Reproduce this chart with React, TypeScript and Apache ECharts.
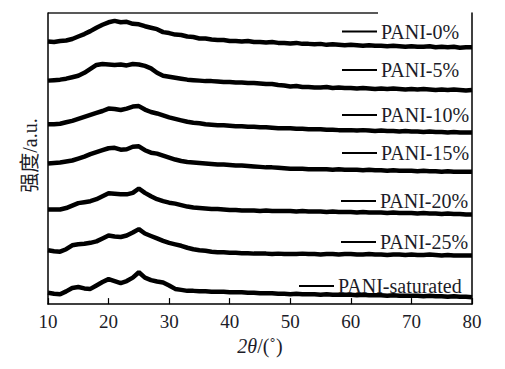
import React, { useEffect, useRef } from "react";
import * as echarts from "echarts";

const xs: number[] = Array.from({ length: 71 }, (_, i) => 10 + i);

const names = ["PANI-0%", "PANI-5%", "PANI-10%", "PANI-15%", "PANI-20%", "PANI-25%", "PANI-saturated"];

const p0 = [
  268, 267.5, 268.5, 269, 270.5, 273, 275.5, 278.5, 282, 285,
  287.5, 289, 287.5, 288, 286, 285.5, 283.5, 282, 280.5, 277.5,
  276.5, 275, 274.5, 273, 272.5, 271, 271, 270, 269.5, 269.5,
  268.5, 268.5, 268, 268.5, 267.5, 267.5, 267, 267.5, 266.5, 266.5,
  266, 266.5, 265.5, 265.5, 265, 265.5, 264.5, 265, 264.5, 264,
  264.5, 264, 263.5, 264, 263.5, 263.5, 263, 263.5, 263, 262.5,
  263, 262.5, 262.5, 263, 262, 262.5, 262, 262.5, 261.5, 262,
  262,
];
const p5 = [
  228, 228.5, 229, 230, 231.5, 233, 236, 240, 244, 245,
  244.5, 244, 244.5, 243.5, 245, 244.5, 243, 240.5, 236, 233,
  232, 231, 230, 229, 228.5, 228, 227.5, 227.5, 227, 226.5,
  226.5, 226, 226, 225.5, 225.5, 225, 224.5, 224.5, 223.5, 223,
  222, 222.5, 221.5, 221.5, 221, 221, 221.5, 220.5, 221, 220.5,
  220.5, 220, 220.5, 220, 219.5, 220, 219.5, 220, 219.5, 219,
  219.5, 219, 219.5, 219, 218.5, 219, 218.5, 219, 218.5, 218,
  218.5,
];
const p10 = [
  183.5, 183.5, 184, 185.5, 187, 189, 191, 193, 195, 197,
  199.5, 199, 198, 199.5, 201.5, 202, 198.5, 196, 194.5, 192.5,
  190.5, 189, 187.5, 186, 185, 184.5, 183.5, 183, 182.5, 182.5,
  182, 181.5, 181.5, 181, 181, 180.5, 180.5, 180, 179.5, 179.5,
  179.5, 179, 179, 178.5, 178.5, 178.5, 178, 178, 177.5, 177.5,
  177.5, 177, 177.5, 177, 176.5, 177, 176.5, 176.5, 176, 176.5,
  176, 176, 175.5, 176, 175.5, 175.5, 175, 175.5, 175, 175,
  175,
];
const p15 = [
  143.5, 144, 144.5, 145.5, 146.5, 148.5, 150.5, 153, 155, 157,
  159, 159.5, 157.5, 158, 160.5, 161, 157, 154.5, 153.5, 151.5,
  149.5, 147.5, 146, 145, 144.5, 144, 143.5, 143, 142.5, 142.5,
  142, 141.5, 141.5, 141, 140.5, 140, 139.5, 139.5, 139, 138.5,
  138, 138, 138, 137.5, 137.5, 137.5, 137.5, 137, 137.5, 137,
  137, 137, 136.5, 137, 136.5, 136.5, 136, 136.5, 136, 136,
  136, 135.5, 136, 135.5, 135.5, 135, 135.5, 135, 135, 135,
  135,
];
const p20 = [
  96.5, 96.5, 96.5, 98, 100.5, 103, 104, 105, 107, 110,
  113, 112.5, 112, 112, 113.5, 118, 113.5, 110, 107, 105,
  103.5, 102.5, 101, 99.5, 98.5, 98, 97.5, 97, 97, 96.5,
  96, 96, 95.5, 95.5, 95.5, 95, 95.5, 95, 95, 95,
  95, 94.5, 95, 94.5, 94.5, 94.5, 94, 94.5, 94, 94,
  94, 93.5, 94, 93.5, 93.5, 93.5, 93, 93.5, 93, 93,
  93, 92.5, 93, 92.5, 92.5, 92, 92.5, 92, 92, 91.5,
  91.5,
];
const p25 = [
  55, 54, 53.5, 56, 60, 61, 61.5, 62.5, 64, 67,
  70, 69, 68.5, 70, 73, 76.5, 72, 69.5, 67, 64.5,
  62.5, 61, 59.5, 57.5, 56, 55, 54.5, 53.5, 53, 53,
  52.5, 52.5, 52, 52, 51.5, 51.5, 51.5, 51, 51.5, 51,
  51, 51, 51.5, 51, 51, 50.5, 51, 51, 50.5, 51,
  51, 50.5, 50.5, 51, 50.5, 50.5, 50, 50.5, 50.5, 50,
  50.5, 50, 50, 50.5, 50, 49.5, 50, 49.5, 49.5, 49.5,
  49.5,
];
const pSat = [
  11.5, 10.5, 10, 13, 16.5, 17.5, 16, 15.5, 19, 22.5,
  25.5, 23.5, 21.5, 23.5, 27, 32.5, 27, 24.5, 23, 22,
  19, 15.5, 14.5, 13.5, 13.5, 13, 13, 12.5, 12.5, 12.5,
  12, 12, 12, 11.5, 11.5, 11, 11, 11, 10.5, 10.5,
  10, 10.5, 10, 10, 10, 9.5, 10, 9.5, 9.5, 9.5,
  9.5, 9, 9.5, 9, 9, 9, 8.5, 9, 8.5, 8.5,
  8.5, 8.5, 8, 8.5, 8, 8, 7.5, 8, 7.5, 7.5,
  7,
];

const allValues = [p0, p5, p10, p15, p20, p25, pSat];

const xTickMin = 10;
const xTickMax = 80;
const xTickStep = 10;

// page offsets: body margin is 8px
const OFF = 8;
const legendLeft = [342, 342, 342, 342, 341, 341, 299];
const legendCenterY = [31.5, 70, 115, 153, 201, 242, 286];

const TEXT_COLOR = "#1c1c28";
const SERIF = "'Liberation Serif', 'Times New Roman', 'Noto Sans CJK SC', serif";

export default function App() {
  const ref = useRef<HTMLDivElement>(null);
  useEffect(() => {
    if (!ref.current) return;
    const chart = echarts.init(ref.current, undefined, { renderer: "svg" });
    const option: any = {
      animation: false,
      grid: { left: 48 - OFF, right: 25, top: 13 - OFF, bottom: 51 },
      legend: names.map((n, i) => ({
        data: [n],
        left: legendLeft[i] - OFF,
        top: legendCenterY[i] - 10 - OFF,
        padding: 0,
        icon: "rect",
        itemWidth: 35,
        itemHeight: 2,
        selectedMode: false,
        textStyle: { fontSize: 20, fontFamily: SERIF, color: TEXT_COLOR, padding: [0, 0, 0, -1] },
      })),
      xAxis: {
        type: "value",
        min: xTickMin,
        max: xTickMax,
        interval: xTickStep,
        axisLine: { show: true, onZero: false, lineStyle: { color: "#000", width: 1.5 } },
        axisTick: { show: true, inside: true, length: 6, lineStyle: { color: "#000", width: 1.2 } },
        axisLabel: { fontSize: 19, fontFamily: SERIF, color: TEXT_COLOR, margin: 8 },
        splitLine: { show: false },
        name: "{i|2θ}/(˚)",
        nameLocation: "middle",
        nameGap: 30,
        nameTextStyle: {
          fontSize: 20,
          fontFamily: SERIF,
          color: TEXT_COLOR,
          rich: { i: { fontSize: 20, fontFamily: SERIF, fontStyle: "italic", color: TEXT_COLOR } },
        },
      },
      yAxis: [
        {
          type: "value",
          min: 0,
          max: 297,
          axisLine: { show: true, onZero: false, lineStyle: { color: "#000", width: 1.5 } },
          axisTick: { show: false },
          axisLabel: { show: false },
          splitLine: { show: false },
          name: "强度/a.u.",
          nameLocation: "middle",
          nameGap: 8,
          nameRotate: 90,
          nameTextStyle: { fontSize: 20, fontFamily: SERIF, color: TEXT_COLOR, padding: [0, 0, 0, 6] },
        },
        {
          type: "value",
          position: "right",
          min: 0,
          max: 297,
          axisLine: { show: true, onZero: false, lineStyle: { color: "#000", width: 1.5 } },
          axisTick: { show: false },
          axisLabel: { show: false },
          splitLine: { show: false },
        },
      ],
      graphic: [
        {
          type: "line",
          shape: { x1: 48 - OFF, y1: 13 - OFF, x2: 378 - OFF, y2: 13 - OFF },
          style: { stroke: "#222", lineWidth: 1.5 },
          silent: true,
        },
      ],
      series: names.map((n, i) => ({
        name: n,
        type: "line",
        yAxisIndex: 0,
        data: xs.map((x, j) => [x, allValues[i][j]]),
        symbol: "none",
        showSymbol: false,
        color: "#000",
        lineStyle: { width: 4.5, color: "#000" },
        itemStyle: { color: "#000" },
        silent: true,
      })),
    };
    chart.setOption(option);
    return () => chart.dispose();
  }, []);
  return <div ref={ref} style={{ width: 489, height: 353 }} />;
}
